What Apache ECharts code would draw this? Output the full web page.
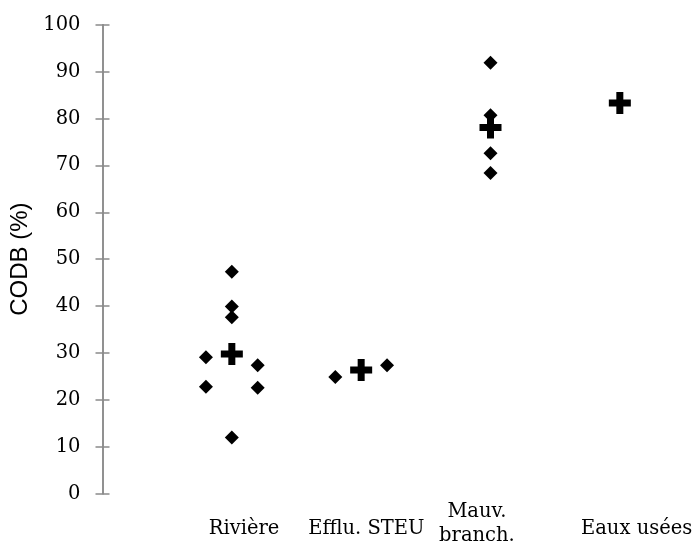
<!DOCTYPE html>
<html>
<head>
<meta charset="utf-8">
<script src="https://cdn.jsdelivr.net/npm/echarts@6/dist/echarts.min.js"></script>
<style>
  html, body { margin: 0; padding: 0; background: #fff; }
  #chart { width: 696px; height: 549px; }
</style>
</head>
<body>
<div id="chart"></div>
<script>
// Site categories (x = 1..4 on the hidden value axis)
const categories = ['Rivière', 'Efflu. STEU', 'Mauv.\nbranch.', 'Eaux usées'];

// Individual samples: site index, small horizontal spread, CODB value (%)
const sampleSite = [1, 1, 1, 1, 1, 1, 1, 1, 2, 2, 3, 3, 3, 3];
const sampleSpread = [-0.2, -0.2, 0, 0, 0, 0, 0.2, 0.2, -0.2, 0.2, 0, 0, 0, 0];
const sampleValues = [29.1, 22.8, 47.3, 39.9, 37.6, 12.0, 27.4, 22.6, 24.9, 27.4, 91.9, 80.7, 72.6, 68.4];

// Mean value per site (%)
const meanSite = [1, 2, 3, 4];
const meanValues = [29.8, 26.4, 78.1, 83.3];

// Y axis ticks
const yMin = 0, yMax = 100, yStep = 10;

// Where each site name sits along the x axis
const labelAnchor = [1.095, 2.04, 2.895, 4.13];

const samplePoints = sampleValues.map((v, i) => [sampleSite[i] + sampleSpread[i], v]);
const meanPoints = meanValues.map((v, i) => [meanSite[i], v]);

const serif = 'DejaVu Serif';
const axisGray = '#8a8a8a';
const plusPath = 'path://M7.5,0H14.5V7.5H22V14.5H14.5V22H7.5V14.5H0V7.5H7.5Z';

const chart = echarts.init(document.getElementById('chart'), null, { renderer: 'canvas' });

const yAxisBase = {
  type: 'value',
  min: yMin,
  max: yMax,
  interval: yStep,
  position: 'left',
  splitLine: { show: false },
  axisLine: { show: true, lineStyle: { color: axisGray, width: 1.5 } }
};

chart.setOption({
  animation: false,
  backgroundColor: '#fff',
  grid: { left: 102.5, right: 11.5, top: 24.7, bottom: 55.3, outerBoundsMode: 'none' },
  xAxis: {
    type: 'value',
    min: 0,
    max: 4.5,
    axisLine: { show: false },
    axisTick: { show: false },
    splitLine: { show: false },
    axisLabel: {
      customValues: labelAnchor,
      formatter: (val) => {
        const k = labelAnchor.findIndex(a => Math.abs(a - val) < 1e-6);
        if (k < 0) return '';
        const name = categories[k];
        // single-line names sit a little lower than the centre of the two-line one
        return name.indexOf('\n') >= 0 ? name : '{one|' + name + '}';
      },
      fontFamily: serif,
      fontSize: 19.5,
      color: '#000',
      lineHeight: 24,
      verticalAlign: 'middle',
      margin: 30,
      rich: {
        one: { fontFamily: serif, fontSize: 19.5, color: '#000', lineHeight: 24, padding: [10, 0, 0, 0] }
      }
    }
  },
  yAxis: [
    Object.assign({}, yAxisBase, {
      name: 'CODB (%)',
      nameLocation: 'middle',
      nameGap: 68,
      nameTextStyle: { fontFamily: 'Liberation Sans', fontSize: 24, color: '#000' },
      axisTick: { show: true, inside: false, length: 7, lineStyle: { color: axisGray, width: 1.5 } },
      axisLabel: { fontFamily: serif, fontSize: 19.5, color: '#000', margin: 22 }
    }),
    Object.assign({}, yAxisBase, {
      axisTick: { show: true, inside: true, length: 7, lineStyle: { color: axisGray, width: 1.5 } },
      axisLabel: { show: false }
    })
  ],
  series: [
    {
      name: 'Échantillons',
      type: 'scatter',
      symbol: 'diamond',
      symbolSize: 14,
      itemStyle: { color: '#000', opacity: 1 },
      data: samplePoints,
      z: 2
    },
    {
      name: 'Moyenne',
      type: 'scatter',
      symbol: plusPath,
      symbolSize: 22,
      itemStyle: { color: '#000', opacity: 1 },
      data: meanPoints,
      z: 3
    }
  ]
});
</script>
</body>
</html>
